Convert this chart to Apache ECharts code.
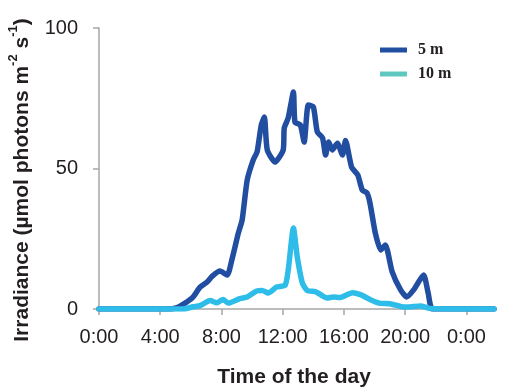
<!DOCTYPE html>
<html>
<head>
<meta charset="utf-8">
<script src="https://cdn.jsdelivr.net/npm/echarts@6/dist/echarts.min.js"></script>
<style>html,body{margin:0;padding:0;background:#fff}#c{width:515px;height:389px}</style>
</head>
<body>
<div id="c"></div>
<script>
// Hours of the day (0..25.8) and irradiance values
const hours5m = [0, 4.5, 5.1, 5.6, 6.15, 6.6, 7.06, 7.4, 7.9, 8.37, 8.7, 9.1, 9.35, 9.68, 10.07, 10.33, 10.6, 10.8, 10.99, 11.5, 12.03, 12.1, 12.36, 12.7, 12.8, 13.15, 13.4, 13.67, 14.0, 14.26, 14.6, 14.8, 15.0, 15.24, 15.57, 15.9, 16.1, 16.5, 16.9, 17.2, 17.5, 17.7, 18.05, 18.4, 18.7, 19.15, 19.7, 20.1, 20.55, 21.2, 21.5, 21.8, 25.8];
const irr5m = [0, 0, 0.5, 2, 4.3, 7.8, 9.6, 11.7, 13.5, 12.1, 18, 27, 31.7, 45.9, 53, 56, 65.5, 68.3, 56.6, 52.3, 56.6, 64.4, 68, 77.2, 66.5, 65.5, 59.4, 72.6, 71.9, 63, 60.9, 54.8, 59.4, 56.6, 59, 54.8, 60, 50.5, 47.7, 42.3, 41.3, 37.7, 27, 21, 22.8, 13.2, 6.8, 4.3, 6.8, 12.1, 5.7, 0, 0];
const hours10m = [0, 5.5, 6.15, 6.6, 7.26, 7.7, 8.1, 8.45, 9.2, 9.68, 10.3, 10.66, 11.05, 11.6, 12.16, 12.36, 12.7, 12.95, 13.28, 13.6, 14.13, 14.3, 14.9, 15.3, 15.76, 16.55, 17.07, 17.7, 18.3, 19.0, 19.7, 20.1, 21.0, 21.6, 25.8];
const irr10m = [0, 0, 0.8, 1.2, 3, 2.2, 3.4, 2.1, 3.7, 4.3, 6.4, 6.6, 5.7, 7.8, 8.5, 13.9, 28.8, 18.5, 9.3, 6.6, 6.2, 5.7, 3.9, 4.3, 4.1, 5.8, 5.1, 3.4, 2.1, 1.9, 0.9, 0.7, 1.1, 0.2, 0];
const xTicks = [0, 4, 8, 12, 16, 20, 24];
const xTickLabels = ['0:00', '4:00', '8:00', '12:00', '16:00', '20:00', '0:00'];
const seriesNames = ['5 m', '10 m'];

const zip = (a, b) => a.map((t, i) => [t, b[i]]);
const txt = '#231f20';
const axisGray = '#a6a6a6';

const chart = echarts.init(document.getElementById('c'));
chart.setOption({
  animation: false,
  backgroundColor: '#fff',
  grid: { left: 99, right: 21, top: 28, bottom: 80 },
  xAxis: {
    type: 'value', min: 0, max: 25.8, interval: 4,
    splitLine: { show: false },
    axisLine: { lineStyle: { color: axisGray, width: 1.5 } },
    axisTick: { show: true, length: 6, lineStyle: { color: axisGray, width: 1.5 }, customValues: xTicks },
    axisLabel: {
      customValues: xTicks, margin: 18, fontSize: 20, color: txt, fontFamily: 'Liberation Sans',
      formatter: v => xTickLabels[xTicks.indexOf(v)] ?? ''
    }
  },
  yAxis: {
    type: 'value', min: 0, max: 100, interval: 50,
    splitLine: { show: false },
    axisLine: { show: true, lineStyle: { color: axisGray, width: 1.5 } },
    axisTick: { show: true, length: 6, lineStyle: { color: axisGray, width: 1.5 } },
    axisLabel: { margin: 21, fontSize: 20, color: txt, fontFamily: 'Liberation Sans' }
  },
  legend: {
    orient: 'vertical', left: 375, top: 37, itemWidth: 27, itemHeight: 5, itemGap: 8,
    icon: 'rect',
    textStyle: { fontFamily: 'Liberation Serif', fontWeight: 'bold', fontSize: 16, color: txt, lineHeight: 14, padding: [0, 0, 0, 6] },
    data: [
      { name: seriesNames[0], itemStyle: { color: '#214ea0' } },
      { name: seriesNames[1], itemStyle: { color: '#5ec8c0' } }
    ]
  },
  series: [
    {
      name: seriesNames[1], type: 'line', data: zip(hours10m, irr10m), showSymbol: false, smooth: 0.2,
      itemStyle: { color: '#5ec8c0' },
      lineStyle: { color: '#2dbde8', width: 5.5, cap: 'round', join: 'round' }, z: 3
    },
    {
      name: seriesNames[0], type: 'line', data: zip(hours5m, irr5m), showSymbol: false, smooth: 0.2,
      itemStyle: { color: '#214ea0' },
      lineStyle: { color: '#214ea0', width: 5.5, cap: 'round', join: 'round' }, z: 2
    }
  ],
  graphic: [
    {
      type: 'text', x: 294, y: 377,
      style: { text: 'Time of the day', font: 'bold 21px "Liberation Sans"', fill: txt, align: 'center', verticalAlign: 'middle' }
    },
    {
      type: 'text', x: 20, y: 180, rotation: Math.PI / 2,
      style: {
        text: '{n|Irradiance (µmol photons m}{s|-2}{n| s}{s|-1}{n|)}',
        align: 'center', verticalAlign: 'middle',
        rich: {
          n: { fontSize: 21, fontWeight: 'bold', fontFamily: 'Liberation Sans', fill: txt, lineHeight: 26, verticalAlign: 'bottom' },
          s: { fontSize: 13, fontWeight: 'bold', fontFamily: 'Liberation Sans', fill: txt, lineHeight: 26, verticalAlign: 'top' }
        }
      }
    }
  ]
});
</script>
</body>
</html>
